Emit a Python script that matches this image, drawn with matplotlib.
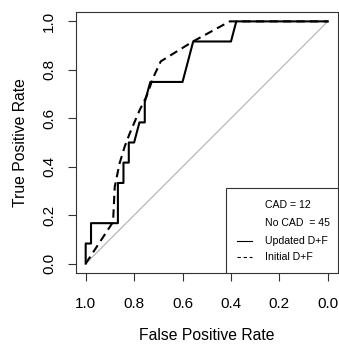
import matplotlib
matplotlib.use("Agg")
import matplotlib.pyplot as plt
from matplotlib.patches import Rectangle
from matplotlib.lines import Line2D

plt.rcParams['font.family'] = ['Liberation Sans', 'DejaVu Sans']

# ROC curves (x = specificity, axis reversed)
updated_x = [1.0, 1.0, 0.978, 0.978, 0.867, 0.867, 0.844, 0.844, 0.822, 0.822,
             0.800, 0.778, 0.756, 0.756, 0.733, 0.600, 0.556, 0.400, 0.378, 0.0]
updated_y = [0.0, 0.083, 0.083, 0.167, 0.167, 0.333, 0.333, 0.417, 0.417, 0.500,
             0.500, 0.583, 0.583, 0.667, 0.750, 0.750, 0.917, 0.917, 1.0, 1.0]

initial_x = [1.0, 0.887, 0.880, 0.860, 0.839, 0.818, 0.777, 0.749, 0.722,
             0.690, 0.557, 0.405, 0.0]
initial_y = [0.0, 0.172, 0.317, 0.414, 0.483, 0.538, 0.634, 0.690, 0.766,
             0.835, 0.917, 1.0, 1.0]

ticks = [0.0, 0.2, 0.4, 0.6, 0.8, 1.0]
tick_labels = ["0.0", "0.2", "0.4", "0.6", "0.8", "1.0"]
legend_text = ["CAD = 12", "No CAD  = 45", "Updated D+F", "Initial D+F"]

fig = plt.figure(figsize=(3.39, 3.44), dpi=100)
ax = fig.add_axes([0.2242, 0.2055, 0.7714, 0.7605])

ax.plot([1, 0], [0, 1], color='#b0b0b0', lw=0.8)
ax.plot(initial_x, initial_y, color='black', lw=1.5, ls=(0, (4, 2.5)))
ax.plot(updated_x, updated_y, color='black', lw=1.5)

ax.set_xlim(1.04, -0.04)
ax.set_ylim(-0.04, 1.04)
ax.set_xticks(ticks)
ax.set_xticklabels(tick_labels)
ax.set_yticks(ticks)
ax.set_yticklabels(tick_labels, rotation=90, va='center')
ax.tick_params(axis='both', length=5.8, width=0.8, labelsize=11, color='#333333')
ax.tick_params(axis='x', pad=11.5)
ax.tick_params(axis='y', pad=8.5)
for s in ax.spines.values():
    s.set_linewidth(0.8)
    s.set_color('#333333')

ax.set_xlabel("False Positive Rate", fontsize=11.3, labelpad=12)
ax.set_ylabel("True Positive Rate", fontsize=11.3, labelpad=10)

# legend box in the lower right corner
ax.add_patch(Rectangle((0.5725, 0.0), 0.4275, 0.325, transform=ax.transAxes,
                       facecolor='white', edgecolor='#333333', lw=0.8, zorder=5))
text_y = [0.261, 0.193, 0.123, 0.061]
for t, y in zip(legend_text, text_y):
    ax.text(0.7228, y, t, transform=ax.transAxes, fontsize=7.6,
            va='center', ha='left', zorder=6)
ax.add_line(Line2D([0.6145, 0.672], [text_y[2], text_y[2]], transform=ax.transAxes,
                   color='black', lw=0.8, zorder=6))
ax.add_line(Line2D([0.6145, 0.672], [text_y[3], text_y[3]], transform=ax.transAxes,
                   color='black', lw=0.8, ls=(0, (3, 2.5)), zorder=6))

fig.savefig("out.png", dpi=100)
